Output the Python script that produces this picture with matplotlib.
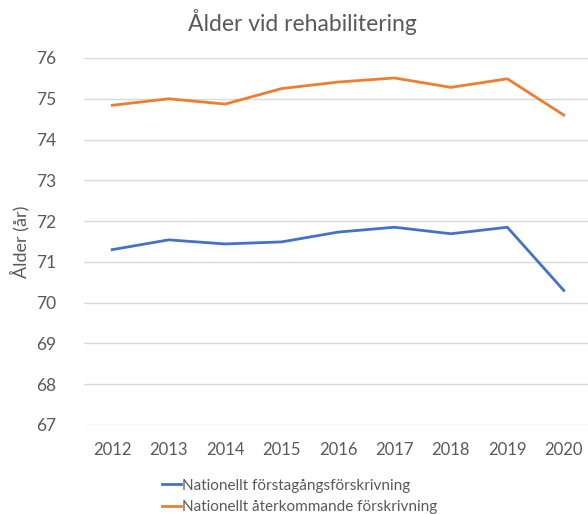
import matplotlib
matplotlib.use("Agg")
import matplotlib.pyplot as plt

years = ["2012", "2013", "2014", "2015", "2016", "2017", "2018", "2019", "2020"]
forstagangs = [71.30, 71.54, 71.44, 71.49, 71.73, 71.85, 71.69, 71.85, 70.30]
aterkommande = [74.84, 75.00, 74.87, 75.25, 75.41, 75.51, 75.28, 75.49, 74.60]
series_names = ["Nationellt förstagångsförskrivning", "Nationellt återkommande förskrivning"]

plt.rcParams['font.family'] = ['Lato', 'DejaVu Sans']
txt = '#595959'

fig = plt.figure(figsize=(5.88, 5.14), dpi=100)
ax = fig.add_axes([84/588, 89/514, 508/588, 367/514])
x = list(range(len(years)))
ax.plot(x, forstagangs, color='#4472C4', lw=2.0, label=series_names[0])
ax.plot(x, aterkommande, color='#ED7D31', lw=2.0, label=series_names[1])
ax.set_xlim(-0.5, len(years) - 0.5)
ax.set_ylim(67, 76)
ax.set_yticks(range(67, 77))
ax.set_xticks(x)
ax.set_xticklabels(years)
ax.grid(axis='y', color='#D9D9D9', lw=1)
ax.set_axisbelow(True)
for s in ax.spines.values():
    s.set_visible(False)
ax.tick_params(length=0, labelsize=12, colors=txt, pad=12)
ax.tick_params(axis='y', pad=20, labelsize=12.5)
ax.set_ylabel("Ålder (år)", fontsize=13, color=txt, labelpad=5)
fig.text(302/588, 1 - 22/514, "Ålder vid rehabilitering", ha='center', va='center', fontsize=16.5, color=txt)
fig.legend(loc='upper center', bbox_to_anchor=(300/588, 1 - 465/514), ncol=1, frameon=False,
           fontsize=11, labelcolor=txt, handlelength=1.2, handletextpad=0.1, labelspacing=0.5)
fig.savefig("out.png", dpi=100)
